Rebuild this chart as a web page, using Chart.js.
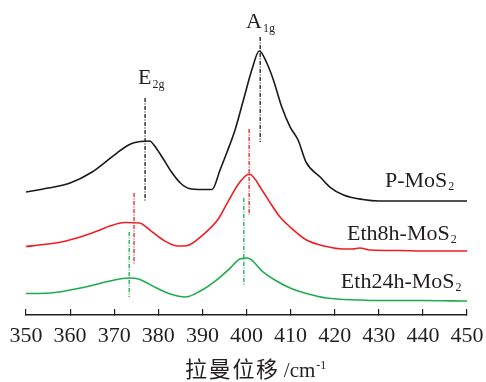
<!DOCTYPE html>
<html>
<head>
<meta charset="utf-8">
<script src="https://cdn.jsdelivr.net/npm/chart.js@4.4.1/dist/chart.umd.min.js"></script>
<style>
  html, body { margin: 0; padding: 0; background: #fff; }
  #wrap { width: 486px; height: 382px; position: relative; }
</style>
</head>
<body>
<div id="wrap"><canvas id="chart"></canvas></div>
<script>
// Raman spectra (relative intensity, arbitrary units)
const shiftP = [350, 355, 360, 365, 368, 370.6, 372.5, 374.3, 376, 378, 379.5, 381, 383, 385, 387, 390, 392.2, 394, 395.5, 397.4, 399.3, 401.2, 402.9, 404.6, 406.1, 408, 409.9, 411.7, 413.5, 416.7, 418.9, 422, 426.4, 430, 435, 440, 445, 450];
const intensityP = [123, 127, 132, 143, 153, 162, 168, 172, 173.5, 174, 167, 157, 143, 132, 126.5, 125.5, 125.5, 145, 162, 185, 215, 245, 264, 252, 235, 208, 188, 175, 153, 138, 128, 120, 115.5, 114, 114, 114, 114, 114];

const shift8h = [350, 354, 358, 363, 366.8, 369, 372.4, 375.7, 378.1, 381.1, 384.5, 386.4, 389.8, 393.6, 396, 398.5, 400.6, 403.8, 405.7, 407.6, 409.9, 413.6, 418.1, 421.9, 424, 425.7, 428, 435, 440, 445, 450];
const intensity8h = [68.5, 70.5, 73, 79, 85, 89, 92.5, 92, 85, 75, 69, 69.3, 79, 96, 115, 133, 141, 123, 110, 98, 88, 75, 68.5, 66, 66, 67, 65, 64.5, 64, 64, 64];

const shift24h = [350, 355.4, 360, 364.5, 369, 373.4, 375.5, 379.6, 382.7, 386.1, 389.5, 393.2, 396.3, 398.5, 400.2, 403.8, 406.8, 409.9, 414, 418.1, 425.7, 430, 440, 450];
const intensity24h = [21.5, 22, 25, 29, 34, 37, 36, 27, 21, 18, 24, 35, 47, 56, 57, 43, 34, 27, 21, 17, 15, 14.5, 14.5, 14];

// peak markers (E2g, A1g): position and vertical extent of the dash-dot lines
const peakShiftP = [377.0, 403.1];
const peakTopP = [217, 278];
const peakBottomP = [114, 173];

const peakShift8h = [374.5, 400.6];
const peakTop8h = [122, 186];
const peakBottom8h = [50, 100];

const peakShift24h = [373.4, 399.4];
const peakTop24h = [83, 117];
const peakBottom24h = [18, 30];

const sampleNames = ['P-MoS', 'Eth8h-MoS', 'Eth24h-MoS'];
const xTicks = [350, 360, 370, 380, 390, 400, 410, 420, 430, 440, 450];

const INK = '#231f20';
const SERIF = '"Liberation Serif", "Times New Roman", serif';
const CJK = '"Noto Sans CJK SC", "Noto Sans CJK JP", sans-serif';
const COLORS = ['#1a1a1a', '#ee1d23', '#1dac4b'];

function toPoints(xs, ys) {
	return xs.map((v, i) => ({x: v, y: ys[i]}));
}

function spectrum(xs, ys, color) {
	return {
		data: toPoints(xs, ys),
		borderColor: color,
		borderWidth: 1.6,
		pointRadius: 0,
		fill: false,
		cubicInterpolationMode: 'monotone',
	};
}

// one dash-dot line per peak
function peakLines(xs, tops, bottoms, color) {
	return xs.map((v, i) => ({
		data: [{x: v, y: tops[i]}, {x: v, y: bottoms[i]}],
		borderColor: color,
		borderWidth: 1.3,
		borderDash: [4, 1.5, 1, 1.5],
		pointRadius: 0,
		fill: false,
	}));
}

function drawSub(ctx, px, py, main, sub, size, subSize, drop) {
	ctx.font = size + 'px ' + SERIF;
	ctx.fillText(main, px, py);
	const w = ctx.measureText(main).width;
	ctx.font = subSize + 'px ' + SERIF;
	ctx.fillText(sub, px + w + 1, py + drop);
}

const labelsPlugin = {
	id: 'ramanLabels',
	afterDraw(chart) {
		const {ctx, chartArea} = chart;
		const x = chart.scales.x;
		const y = chart.scales.y;
		ctx.save();
		ctx.fillStyle = INK;
		ctx.textAlign = 'left';
		ctx.textBaseline = 'alphabetic';

		// mode names over the peaks
		drawSub(ctx, x.getPixelForValue(375.4), y.getPixelForValue(231), 'E', '2g', 22, 12, 4);
		drawSub(ctx, x.getPixelForValue(399.9), y.getPixelForValue(287), 'A', '1g', 22, 12, 4);

		// sample names at the right
		const nameX = [431.4, 422.8, 421.4];
		const nameY = [128, 75, 27];
		sampleNames.forEach((name, i) => {
			drawSub(ctx, x.getPixelForValue(nameX[i]), y.getPixelForValue(nameY[i]), name, '2', 22, 12, 3);
		});

		// axis title: 拉曼位移 /cm-1 (CJK glyphs spaced out like the original)
		const base = 377;
		const step = 23.7;
		const cjk = '拉曼位移';
		let tx = chartArea.left + 159;
		ctx.font = '22px ' + CJK;
		for (const ch of cjk) {
			ctx.fillText(ch, tx, base);
			tx += step;
		}
		tx += 4;
		ctx.font = '21px ' + SERIF;
		ctx.fillText('/cm', tx, base);
		tx += ctx.measureText('/cm').width + 1;
		ctx.font = '12px ' + SERIF;
		ctx.fillText('-1', tx, base - 8);
		ctx.restore();
	}
};

const datasets = [
	spectrum(shiftP, intensityP, COLORS[0]),
	spectrum(shift8h, intensity8h, COLORS[1]),
	spectrum(shift24h, intensity24h, COLORS[2]),
	...peakLines(peakShiftP, peakTopP, peakBottomP, COLORS[0]),
	...peakLines(peakShift8h, peakTop8h, peakBottom8h, COLORS[1]),
	...peakLines(peakShift24h, peakTop24h, peakBottom24h, COLORS[2]),
];

new Chart(document.getElementById('chart'), {
	type: 'line',
	data: {datasets: datasets},
	options: {
		responsive: true,
		maintainAspectRatio: false,
		animation: false,
		layout: {padding: {left: 26, right: 19, top: 10, bottom: 19}},
		plugins: {
			legend: {display: false},
			tooltip: {enabled: false},
		},
		scales: {
			x: {
				type: 'linear',
				min: 350,
				max: 450,
				afterBuildTicks: (scale) => {
					scale.ticks = xTicks.map(v => ({value: v}));
				},
				grid: {
					drawOnChartArea: false,
					drawTicks: true,
					tickLength: -6, // ticks point up into the plot
					color: INK,
					lineWidth: 1.2,
				},
				border: {display: true, color: INK, width: 1.5},
				ticks: {
					color: INK,
					padding: 2,
					maxRotation: 0,
					font: {family: SERIF, size: 22, lineHeight: 2.27},
				},
			},
			y: {
				display: false,
				min: 0,
				max: 305,
			},
		},
	},
	plugins: [labelsPlugin],
});
</script>
</body>
</html>
